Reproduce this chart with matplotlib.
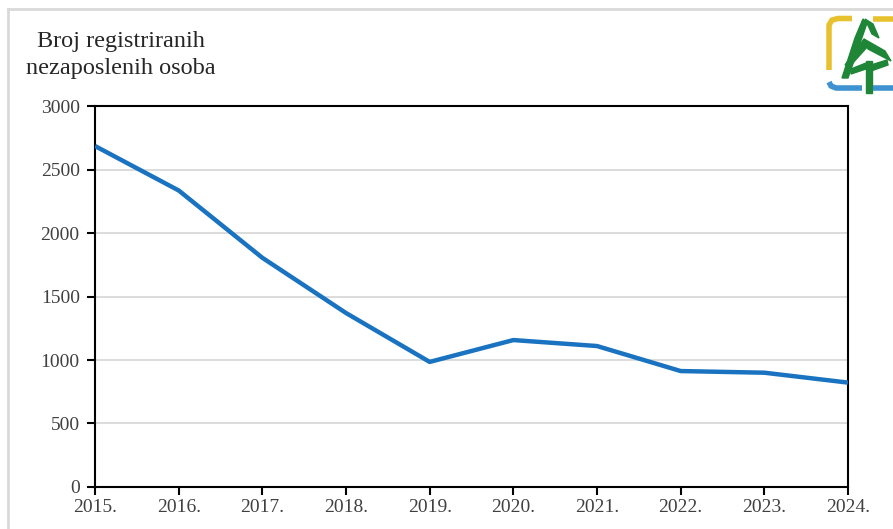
import matplotlib.pyplot as plt
from matplotlib.patches import Polygon
from matplotlib.lines import Line2D

years = ['2015.', '2016.', '2017.', '2018.', '2019.', '2020.', '2021.', '2022.', '2023.', '2024.']
unemployed = [2685, 2335, 1805, 1370, 985, 1157, 1110, 913, 900, 822]
yticks = [0, 500, 1000, 1500, 2000, 2500, 3000]

plt.rcParams['font.family'] = ['Liberation Serif', 'DejaVu Serif']

fig = plt.figure(figsize=(8.93, 5.29), dpi=100)
ax = fig.add_axes([0.1064, 0.0794, 0.8432, 0.7202])

x = list(range(len(years)))
ax.plot(x, unemployed, color='#1a73c0', linewidth=3.2, solid_capstyle='butt', zorder=3)

ax.set_xlim(0, len(years) - 1)
ax.set_ylim(0, 3000)
ax.set_xticks(x)
ax.set_xticklabels(years)
ax.set_yticks(yticks)
ax.yaxis.grid(True, color='#d9d9d9', linewidth=1.3)
ax.set_axisbelow(True)
for s in ax.spines.values():
    s.set_color('black')
    s.set_linewidth(1.5)
ax.tick_params(axis='both', direction='out', length=6, width=1.5, color='black',
               labelsize=14, labelcolor='#404040')
ax.tick_params(axis='x', pad=3)
ax.tick_params(axis='y', pad=5)

fig.text(0.135, 0.922, 'Broj registriranih', ha='center', va='center', fontsize=17.5, color='#262626')
fig.text(0.135, 0.870, 'nezaposlenih osoba', ha='center', va='center', fontsize=17.5, color='#262626')

# light frame of the original card
fig.add_artist(Line2D([0.009, 0.009], [0.0, 0.983], color='#d9d9d9', linewidth=2, transform=fig.transFigure))
fig.add_artist(Line2D([0.009, 1.0], [0.983, 0.983], color='#d9d9d9', linewidth=2, transform=fig.transFigure))

# logo, drawn in pixel coordinates of the region
lax = fig.add_axes([820 / 893, (529 - 95) / 529, 73 / 893, 85 / 529])
lax.set_xlim(820, 893)
lax.set_ylim(95, 10)
lax.axis('off')
yellow = '#e8c22e'
blue = '#3f92d2'
green = '#1e8636'
lax.plot([829, 829, 832, 838, 852], [70, 25, 20, 18.5, 18.5], color=yellow, linewidth=4,
         solid_capstyle='butt', solid_joinstyle='round')
lax.plot([873, 893], [18.5, 18.5], color=yellow, linewidth=4, solid_capstyle='butt')
lax.plot([829, 831, 836, 862], [82, 86, 88, 88], color=blue, linewidth=4,
         solid_capstyle='butt', solid_joinstyle='round')
lax.plot([873, 893], [88, 88], color=blue, linewidth=4, solid_capstyle='butt')
lax.add_patch(Polygon([[863, 19], [867, 23], [848, 78], [842, 78], [855, 38]], color=green))
lax.add_patch(Polygon([[865, 19], [873, 24], [879, 38], [872, 34]], color=green))
lax.add_patch(Polygon([[864, 39], [869, 45], [851, 65], [845, 65]], color=green))
lax.add_patch(Polygon([[864, 39], [885, 51], [891, 61], [868, 49]], color=green))
lax.add_patch(Polygon([[865.5, 61], [871.5, 61], [871.5, 93], [865.5, 93]], color=green))
lax.add_patch(Polygon([[871, 65], [887, 60], [888, 65], [871, 71]], color=green))
lax.add_patch(Polygon([[866, 63], [851, 69], [851, 74], [866, 69]], color=green))

fig.savefig('out.png', dpi=100)
